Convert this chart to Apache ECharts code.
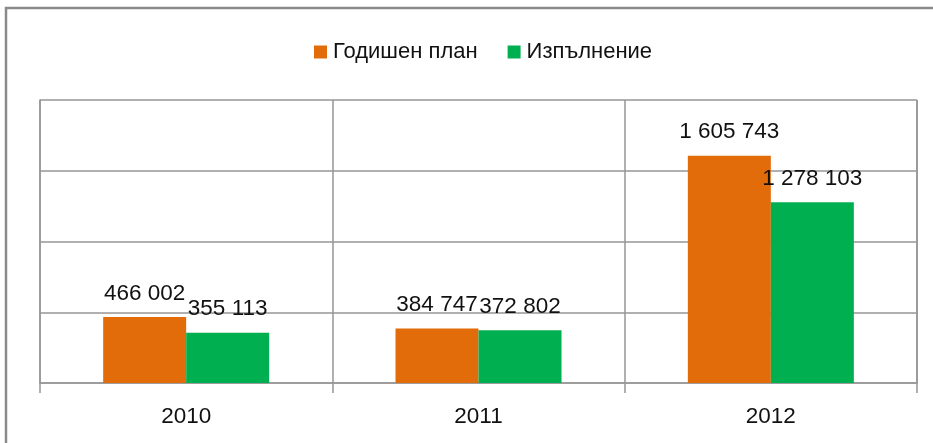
<!DOCTYPE html>
<html>
<head>
<meta charset="utf-8">
<script src="https://cdn.jsdelivr.net/npm/echarts@6/dist/echarts.min.js"></script>
<style>
  html, body { margin: 0; padding: 0; background: #fff; }
  #chart { width: 933px; height: 443px; }
</style>
</head>
<body>
<div id="chart"></div>
<script>
// Annual plan vs. execution, by year
const years = ['2010', '2011', '2012'];
const planValues = [466002, 384747, 1605743];
const actualValues = [355113, 372802, 1278103];
const seriesNames = ['Годишен план', 'Изпълнение'];

const FONT = '"Liberation Sans", Arial, sans-serif';
const GRID_COLOR = '#969696';

// 1605743 -> "1 605 743"
function groupDigits(v) {
  return String(v).replace(/\B(?=(\d{3})+(?!\d))/g, ' ');
}

const chart = echarts.init(document.getElementById('chart'), null, { renderer: 'canvas' });

const labelStyle = {
  show: true,
  position: 'top',
  distance: 12,
  color: '#111',
  fontFamily: FONT,
  fontSize: 22.5,
  formatter: p => groupDigits(p.value)
};

chart.setOption({
  animation: false,
  backgroundColor: '#fff',
  textStyle: { fontFamily: FONT },
  graphic: [{
    type: 'rect',
    shape: { x: 6, y: 8, width: 1000, height: 1000 },
    style: { fill: 'none', stroke: '#8a8a8a', lineWidth: 2.5 },
    silent: true
  }, {
    // right edge of the plot area (the value axis only draws the left one)
    type: 'line',
    shape: { x1: 917, y1: 100, x2: 917, y2: 383 },
    style: { stroke: GRID_COLOR, lineWidth: 1.5 },
    silent: true
  }],
  legend: {
    data: seriesNames,
    top: 36,
    left: 309,
    itemWidth: 13,
    itemHeight: 13,
    itemGap: 30,
    icon: 'rect',
    textStyle: { fontFamily: FONT, fontSize: 22, color: '#111', padding: [0, 0, 0, 1] }
  },
  grid: {
    left: 40,
    right: 16,
    top: 100,
    bottom: 60,
    show: false
  },
  xAxis: {
    type: 'category',
    data: years,
    boundaryGap: true,
    axisLine: { show: true, lineStyle: { color: GRID_COLOR, width: 1.5 } },
    axisTick: { show: true, length: 10, interval: 0, lineStyle: { color: GRID_COLOR, width: 1.5 } },
    splitLine: { show: true, interval: 0, lineStyle: { color: GRID_COLOR, width: 1.5 } },
    axisLabel: { color: '#111', fontFamily: FONT, fontSize: 22.5, margin: 22 }
  },
  yAxis: {
    type: 'value',
    min: 0,
    max: 2000000,
    interval: 500000,
    axisLabel: { show: false },
    axisTick: { show: false },
    axisLine: { show: true, lineStyle: { color: GRID_COLOR, width: 1.5 } },
    splitLine: { show: true, lineStyle: { color: GRID_COLOR, width: 1.5 } }
  },
  series: [
    {
      name: seriesNames[0],
      type: 'bar',
      data: planValues,
      barWidth: 83,
      barGap: '0%',
      itemStyle: { color: '#E36C0A' },
      label: labelStyle
    },
    {
      name: seriesNames[1],
      type: 'bar',
      data: actualValues,
      barWidth: 83,
      itemStyle: { color: '#00B050' },
      label: labelStyle
    }
  ]
});
</script>
</body>
</html>
